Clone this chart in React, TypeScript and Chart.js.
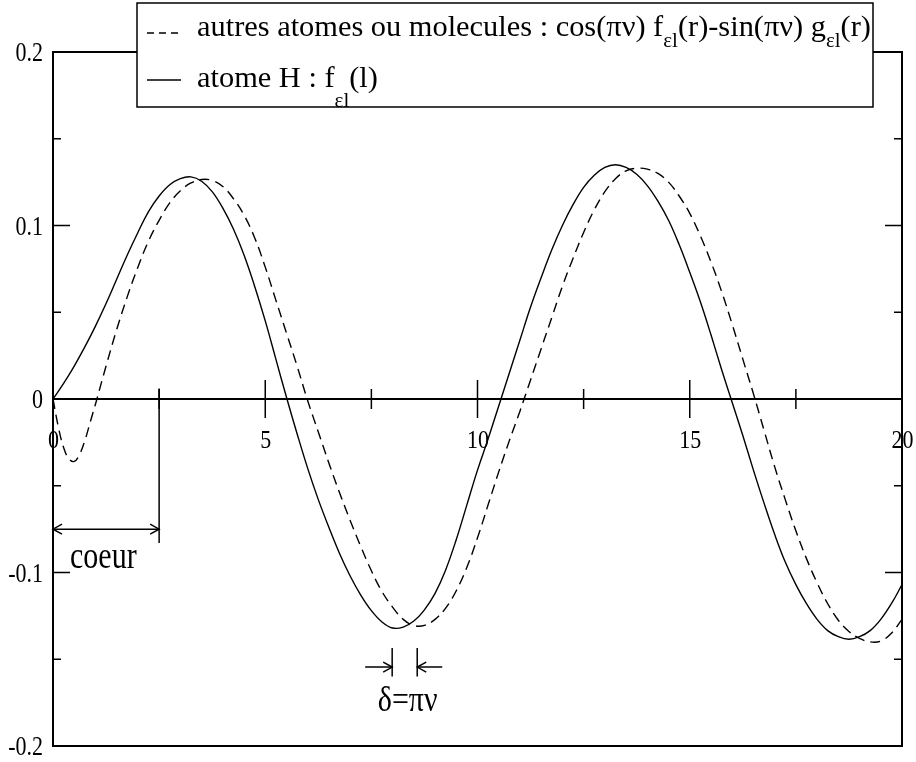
import React, { useEffect, useRef } from "react";
import { Chart, registerables } from "chart.js";

Chart.register(...registerables);

// ---- data ----
const X_H = [
  0, 0.25, 0.5, 0.75, 1, 1.25, 1.5, 1.75, 2, 2.25, 2.5, 2.75, 3, 3.25, 3.5, 3.75, 4, 4.25, 4.5, 4.75,
  5, 5.25, 5.5, 5.75, 6, 6.25, 6.5, 6.75, 7, 7.25, 7.5, 7.75, 8, 8.25, 8.5, 8.75, 9, 9.25, 9.5, 9.75,
  10, 10.25, 10.5, 10.75, 11, 11.25, 11.5, 11.75, 12, 12.25, 12.5, 12.75, 13, 13.25, 13.5, 13.75, 14, 14.25, 14.5, 14.75,
  15, 15.25, 15.5, 15.75, 16, 16.25, 16.5, 16.75, 17, 17.25, 17.5, 17.75, 18, 18.25, 18.5, 18.75, 19, 19.25, 19.5, 19.75, 20,
];
const Y_H = [
  0, 0.009, 0.019, 0.030, 0.042, 0.055, 0.069, 0.083, 0.096, 0.108, 0.117, 0.1235, 0.127, 0.128, 0.1255, 0.1195, 0.110, 0.098, 0.083, 0.065,
  0.045, 0.023, 0.001, -0.020, -0.040, -0.058, -0.074, -0.089, -0.102, -0.113, -0.122, -0.1285, -0.132, -0.1315, -0.128, -0.1215, -0.112, -0.0985, -0.081, -0.061,
  -0.041, -0.023, -0.004, 0.015, 0.034, 0.053, 0.070, 0.086, 0.100, 0.112, 0.122, 0.129, 0.1335, 0.135, 0.1335, 0.1295, 0.123, 0.114, 0.103, 0.089,
  0.073, 0.056, 0.037, 0.017, -0.002, -0.021, -0.041, -0.060, -0.078, -0.094, -0.107, -0.118, -0.127, -0.1335, -0.137, -0.1385, -0.137, -0.1335, -0.127, -0.118, -0.107,
];
const X_OTHER = [
  0, 0.125, 0.25, 0.375, 0.5, 0.625, 0.75, 0.875, 1, 1.25, 1.5, 1.75, 2, 2.25, 2.5, 2.75, 3, 3.25, 3.5, 3.75, 4, 4.25, 4.5, 4.75,
  5, 5.25, 5.5, 5.75, 6, 6.25, 6.5, 6.75, 7, 7.25, 7.5, 7.75, 8, 8.25, 8.5, 8.75, 9, 9.25, 9.5, 9.75,
  10, 10.25, 10.5, 10.75, 11, 11.25, 11.5, 11.75, 12, 12.25, 12.5, 12.75, 13, 13.25, 13.5, 13.75, 14, 14.25, 14.5, 14.75,
  15, 15.25, 15.5, 15.75, 16, 16.25, 16.5, 16.75, 17, 17.25, 17.5, 17.75, 18, 18.25, 18.5, 18.75, 19, 19.25, 19.5, 19.75, 20,
];
const Y_OTHER = [
  0, -0.016, -0.028, -0.0345, -0.036, -0.032, -0.024, -0.0135, -0.003, 0.019, 0.040, 0.059, 0.076, 0.091, 0.103, 0.113, 0.120, 0.1245, 0.1265, 0.126, 0.1225, 0.1155, 0.106, 0.093,
  0.076, 0.057, 0.038, 0.019, -0.001, -0.019, -0.037, -0.054, -0.070, -0.085, -0.099, -0.111, -0.120, -0.127, -0.1305, -0.1305, -0.127, -0.1205, -0.1105, -0.097,
  -0.080, -0.061, -0.042, -0.024, -0.007, 0.011, 0.029, 0.047, 0.065, 0.081, 0.096, 0.109, 0.1195, 0.127, 0.1315, 0.133, 0.1325, 0.130, 0.125, 0.117,
  0.107, 0.094, 0.079, 0.062, 0.043, 0.023, 0.003, -0.018, -0.039, -0.058, -0.076, -0.092, -0.106, -0.118, -0.1275, -0.134, -0.138, -0.140, -0.1395, -0.135, -0.127,
];

const X_MAJOR = [0, 5, 10, 15, 20];
const X_MAJOR_LABELS = ["0", "5", "10", "15", "20"];
const X_MINOR = [2.5, 7.5, 12.5, 17.5];
const Y_MAJOR = [-0.2, -0.1, 0, 0.1, 0.2];
const Y_MAJOR_LABELS = ["-0.2", "-0.1", "0", "0.1", "0.2"];
const Y_MINOR = [-0.15, -0.05, 0.05, 0.15];

const LEGEND_OTHER = [
  { t: "autres atomes ou molecules : cos(\u03C0\u03BD) f", sub: false },
  { t: "\u03B5l", sub: true },
  { t: "(r)-sin(\u03C0\u03BD) g", sub: false },
  { t: "\u03B5l", sub: true },
  { t: "(r)", sub: false },
];
const LEGEND_H = [
  { t: "atome H : f", sub: false },
  { t: "\u03B5l", sub: true },
  { t: "(l)", sub: false },
];

// annotations (data coordinates)
const CORE_X = 2.5;
const CORE_LINE_TOP = 0.006;
const CORE_LINE_BOTTOM = -0.0830;
const CORE_ARROW_Y = -0.0750;
const CORE_TEXT_Y = -0.0974;
const CORE_LABEL = "coeur";
const DELTA_X1 = 7.99;
const DELTA_X2 = 8.58;
const DELTA_TOP = -0.1435;
const DELTA_BOTTOM = -0.1600;
const DELTA_ARROW_Y = -0.1545;
const DELTA_TEXT_Y = -0.1800;
const DELTA_LABEL = "\u03B4=\u03C0\u03BD";

const FONT = "'Liberation Serif', 'Times New Roman', serif";
const LEGEND_PX = 30.4;
const SUB_PX = 21;
const TICK_PX = 22;
const NOTE_PX = 30;

function drawRuns(ctx: CanvasRenderingContext2D, runs: { t: string; sub: boolean }[], x: number, y: number, subDy: number) {
  let cx = x;
  for (const r of runs) {
    ctx.font = r.sub ? `${SUB_PX}px ${FONT}` : `${LEGEND_PX}px ${FONT}`;
    ctx.fillText(r.t, cx, r.sub ? y + subDy : y);
    cx += ctx.measureText(r.t).width;
  }
}

// text drawn at baseline y, stretched vertically by k
function stretchedText(ctx: CanvasRenderingContext2D, text: string, x: number, y: number, k: number) {
  ctx.save();
  ctx.translate(x, y);
  ctx.scale(1, k);
  ctx.fillText(text, 0, 0);
  ctx.restore();
}

function arrowHead(ctx: CanvasRenderingContext2D, tx: number, ty: number, dir: number) {
  ctx.beginPath();
  ctx.moveTo(tx - dir * 9, ty - 5);
  ctx.lineTo(tx, ty);
  ctx.lineTo(tx - dir * 9, ty + 5);
  ctx.stroke();
}

const decorPlugin = {
  id: "decor",
  afterDraw(chart: any) {
    const ctx: CanvasRenderingContext2D = chart.ctx;
    const xs = chart.scales.x;
    const ys = chart.scales.y;
    const { left, right, top, bottom } = chart.chartArea;
    ctx.save();
    ctx.strokeStyle = "#000";
    ctx.fillStyle = "#000";
    ctx.setLineDash([]);

    // frame
    ctx.lineWidth = 2;
    ctx.strokeRect(left, top, right - left, bottom - top);

    // x axis at y = 0
    const y0 = ys.getPixelForValue(0);
    ctx.beginPath();
    ctx.moveTo(left, y0);
    ctx.lineTo(right, y0);
    ctx.stroke();

    ctx.lineWidth = 1.5;
    for (const v of X_MAJOR) {
      const px = xs.getPixelForValue(v);
      ctx.beginPath();
      ctx.moveTo(px, y0 - 19);
      ctx.lineTo(px, y0 + 19);
      ctx.stroke();
    }
    for (const v of X_MINOR) {
      const px = xs.getPixelForValue(v);
      ctx.beginPath();
      ctx.moveTo(px, y0 - 10);
      ctx.lineTo(px, y0 + 10);
      ctx.stroke();
    }
    for (const v of Y_MAJOR) {
      const py = ys.getPixelForValue(v);
      ctx.beginPath();
      ctx.moveTo(left, py);
      ctx.lineTo(left + 17, py);
      ctx.moveTo(right, py);
      ctx.lineTo(right - 17, py);
      ctx.stroke();
    }
    for (const v of Y_MINOR) {
      const py = ys.getPixelForValue(v);
      ctx.beginPath();
      ctx.moveTo(left, py);
      ctx.lineTo(left + 8, py);
      ctx.moveTo(right, py);
      ctx.lineTo(right - 8, py);
      ctx.stroke();
    }

    // tick labels
    ctx.font = `${TICK_PX}px ${FONT}`;
    ctx.textBaseline = "alphabetic";
    ctx.textAlign = "right";
    Y_MAJOR.forEach((v, i) => {
      stretchedText(ctx, Y_MAJOR_LABELS[i], left - 10, ys.getPixelForValue(v) + 9, 1.22);
    });
    ctx.textAlign = "center";
    X_MAJOR.forEach((v, i) => {
      stretchedText(ctx, X_MAJOR_LABELS[i], xs.getPixelForValue(v) + 0.5, y0 + 49, 1.15);
    });

    // "coeur" annotation
    const cx = xs.getPixelForValue(CORE_X);
    ctx.lineWidth = 1.5;
    ctx.beginPath();
    ctx.moveTo(cx, ys.getPixelForValue(CORE_LINE_TOP));
    ctx.lineTo(cx, ys.getPixelForValue(CORE_LINE_BOTTOM));
    ctx.stroke();
    const ca = ys.getPixelForValue(CORE_ARROW_Y);
    const x0 = xs.getPixelForValue(0);
    ctx.beginPath();
    ctx.moveTo(x0, ca);
    ctx.lineTo(cx, ca);
    ctx.stroke();
    arrowHead(ctx, x0, ca, -1);
    arrowHead(ctx, cx, ca, 1);
    ctx.textAlign = "left";
    ctx.font = `${NOTE_PX}px ${FONT}`;
    stretchedText(ctx, CORE_LABEL, x0 + 17, ys.getPixelForValue(CORE_TEXT_Y), 1.25);

    // delta annotation
    const d1 = xs.getPixelForValue(DELTA_X1);
    const d2 = xs.getPixelForValue(DELTA_X2);
    const dt = ys.getPixelForValue(DELTA_TOP);
    const db = ys.getPixelForValue(DELTA_BOTTOM);
    const da = ys.getPixelForValue(DELTA_ARROW_Y);
    ctx.beginPath();
    ctx.moveTo(d1, dt);
    ctx.lineTo(d1, db);
    ctx.moveTo(d2, dt);
    ctx.lineTo(d2, db);
    ctx.moveTo(d1 - 27, da);
    ctx.lineTo(d1, da);
    ctx.moveTo(d2 + 25, da);
    ctx.lineTo(d2, da);
    ctx.stroke();
    arrowHead(ctx, d1, da, 1);
    arrowHead(ctx, d2, da, -1);
    ctx.textAlign = "center";
    stretchedText(ctx, DELTA_LABEL, (d1 + d2) / 2 + 3, ys.getPixelForValue(DELTA_TEXT_Y), 1.2);

    // legend box
    const bx = 137, by = 3, bw = 873 - 137, bh = 107 - 3;
    ctx.fillStyle = "#fff";
    ctx.fillRect(bx, by, bw, bh);
    ctx.fillStyle = "#000";
    ctx.lineWidth = 1.5;
    ctx.strokeRect(bx, by, bw, bh);
    ctx.setLineDash([7, 5]);
    ctx.beginPath();
    ctx.moveTo(147, 33);
    ctx.lineTo(181, 33);
    ctx.stroke();
    ctx.setLineDash([]);
    ctx.beginPath();
    ctx.moveTo(147, 80);
    ctx.lineTo(181, 80);
    ctx.stroke();
    ctx.textAlign = "left";
    ctx.textBaseline = "alphabetic";
    drawRuns(ctx, LEGEND_OTHER, 197, 36, 11);
    drawRuns(ctx, LEGEND_H, 197, 87, 20);

    ctx.restore();
  },
};

export default function App() {
  const ref = useRef<HTMLCanvasElement | null>(null);
  useEffect(() => {
    if (!ref.current) return;
    const chart = new Chart(ref.current, {
      type: "line",
      data: {
        datasets: [
          {
            label: "autres atomes ou molecules",
            data: X_OTHER.map((x, i) => ({ x, y: Y_OTHER[i] })),
            borderColor: "#000",
            borderWidth: 1.4,
            borderDash: [10, 6],
            pointRadius: 0,
            fill: false,
            tension: 0.4,
          },
          {
            label: "atome H",
            data: X_H.map((x, i) => ({ x, y: Y_H[i] })),
            borderColor: "#000",
            borderWidth: 1.4,
            pointRadius: 0,
            fill: false,
            tension: 0.4,
          },
        ],
      },
      options: {
        responsive: false,
        animation: false,
        devicePixelRatio: 1,
        layout: { padding: { left: 53, top: 52, right: 14, bottom: 16 } },
        plugins: { legend: { display: false }, tooltip: { enabled: false } },
        scales: {
          x: { type: "linear", min: 0, max: 20, display: false },
          y: { type: "linear", min: -0.2, max: 0.2, display: false },
        },
      },
      plugins: [decorPlugin],
    } as any);
    return () => chart.destroy();
  }, []);
  return (
    <div style={{ position: "absolute", left: 0, top: 0, width: 916, height: 762, background: "#fff" }}>
      <canvas ref={ref} width={916} height={762} style={{ display: "block" }} />
    </div>
  );
}
